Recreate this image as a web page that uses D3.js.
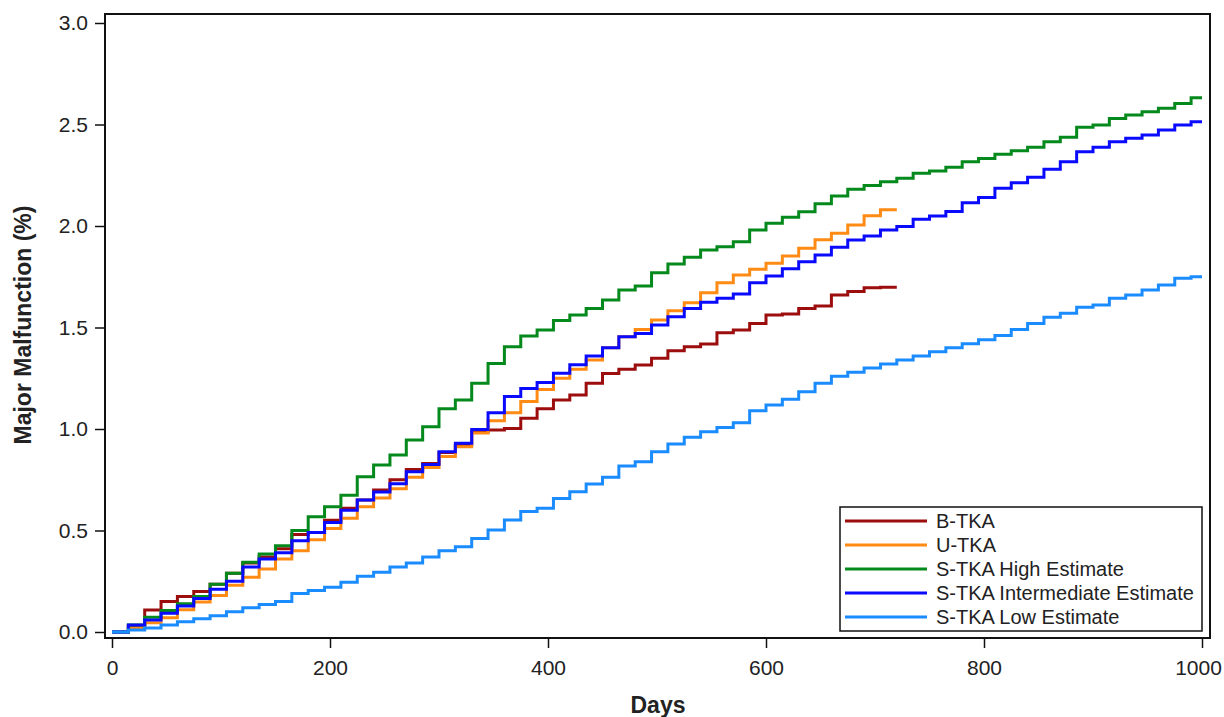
<!DOCTYPE html>
<html>
<head>
<meta charset="utf-8">
<script src="https://cdn.jsdelivr.net/npm/d3@7"></script>
<style>
  body { margin: 0; background: #fff; }
  text { font-family: Arial, "Liberation Sans", sans-serif; fill: #222; }
</style>
</head>
<body>
<div id="chart"></div>
<script>
// step times (days) shared by every curve
var stepDays = [0,15,30,45,60,75,90,105,120,135,150,165,180,195,210,225,240,255,270,285,300,
  315,330,345,360,375,390,405,420,435,450,465,480,495,510,525,540,555,570,585,600,615,630,
  645,660,675,690,705,720,735,750,765,780,795,810,825,840,855,870,885,900,915,930,945,960,975,990];

var bTka = [0,0.03,0.108,0.15,0.175,0.20,0.235,0.29,0.34,0.37,0.41,0.48,0.49,0.55,0.61,0.65,0.70,
  0.75,0.80,0.83,0.884,0.921,0.987,0.995,1.003,1.053,1.10,1.143,1.168,1.225,1.274,1.294,1.315,
  1.348,1.386,1.405,1.419,1.474,1.488,1.52,1.562,1.566,1.594,1.606,1.66,1.677,1.696,1.698];

var uTka = [0,0.02,0.045,0.07,0.11,0.148,0.18,0.23,0.27,0.31,0.36,0.40,0.455,0.51,0.56,0.617,0.66,
  0.706,0.762,0.81,0.864,0.913,0.98,1.041,1.08,1.135,1.195,1.25,1.294,1.34,1.40,1.455,1.49,
  1.537,1.583,1.622,1.671,1.721,1.759,1.787,1.816,1.852,1.89,1.932,1.964,2.005,2.05,2.08];

var sHigh = [0,0.034,0.073,0.106,0.139,0.175,0.235,0.29,0.343,0.384,0.425,0.50,0.568,0.617,0.674,
  0.765,0.823,0.872,0.946,1.011,1.10,1.143,1.225,1.323,1.405,1.458,1.488,1.534,1.561,1.594,1.635,
  1.685,1.704,1.77,1.813,1.846,1.882,1.898,1.923,1.98,2.013,2.043,2.07,2.11,2.148,2.181,2.199,
  2.218,2.235,2.26,2.271,2.289,2.317,2.333,2.353,2.371,2.388,2.415,2.437,2.486,2.498,2.53,2.547,
  2.563,2.58,2.604,2.632];

var sMid = [0,0.034,0.059,0.092,0.128,0.165,0.21,0.25,0.32,0.36,0.39,0.45,0.49,0.54,0.60,0.65,0.69,
  0.73,0.79,0.825,0.888,0.93,0.998,1.08,1.16,1.20,1.229,1.275,1.316,1.36,1.40,1.455,1.471,1.512,
  1.553,1.594,1.624,1.644,1.665,1.721,1.754,1.79,1.824,1.857,1.895,1.931,1.951,1.98,1.997,2.033,
  2.049,2.071,2.115,2.141,2.186,2.213,2.24,2.279,2.317,2.366,2.388,2.415,2.432,2.448,2.473,2.498,2.514];

var sLow = [0,0.01,0.02,0.035,0.05,0.065,0.08,0.10,0.12,0.135,0.15,0.19,0.205,0.22,0.245,0.275,0.294,
  0.32,0.34,0.37,0.40,0.42,0.46,0.502,0.552,0.593,0.609,0.658,0.691,0.729,0.762,0.818,0.839,0.888,
  0.926,0.959,0.987,1.008,1.031,1.09,1.118,1.146,1.184,1.225,1.26,1.28,1.30,1.32,1.34,1.36,1.38,
  1.40,1.42,1.44,1.46,1.49,1.52,1.55,1.57,1.60,1.611,1.644,1.66,1.685,1.709,1.742,1.75];

var seriesNames = ["B-TKA","U-TKA","S-TKA High Estimate","S-TKA Intermediate Estimate","S-TKA Low Estimate"];
var seriesValues = [bTka, uTka, sHigh, sMid, sLow];
var seriesEnd = [720, 720, 1000, 1000, 1000];
var seriesColors = ["#9c0d0d","#ff8a14","#04891c","#0a0aff","#1a8cff"];

var xTicks = [0,200,400,600,800,1000];
var yTicks = [0.0,0.5,1.0,1.5,2.0,2.5,3.0];

var W = 1224, H = 717;
var frame = { left: 105, right: 1210, top: 14, bottom: 638 };

var svg = d3.select("#chart").append("svg")
            .attr("width", W)
            .attr("height", H);

var xScale = d3.scaleLinear().domain([0,1000]).range([112,1202]);
var yScale = d3.scaleLinear().domain([0,3]).range([632,23]);

// y axis ticks outside the frame
var yAxis = d3.axisLeft(yScale).tickValues(yTicks).tickFormat(d3.format(".1f"))
              .tickSizeInner(10).tickSizeOuter(0).tickPadding(7);
var gy = svg.append("g")
            .attr("transform", "translate(" + frame.left + ",0)")
            .call(yAxis);
gy.select(".domain").remove();
gy.selectAll("line").attr("stroke","#111").attr("stroke-width",1.5);
gy.selectAll("text").style("font-size","21px").attr("fill","#222");

var xAxis = d3.axisBottom(xScale).tickValues(xTicks).tickFormat(d3.format("d"))
              .tickSizeInner(10).tickSizeOuter(0).tickPadding(12);
var gx = svg.append("g")
            .attr("transform", "translate(0," + frame.bottom + ")")
            .call(xAxis);
gx.select(".domain").remove();
gx.selectAll("line").attr("stroke","#111").attr("stroke-width",1.5);
gx.selectAll("text").style("font-size","21px").attr("fill","#222");
// last label sits against the right edge, as in the original
gx.selectAll("text").filter(function(d){ return d === 1000; }).attr("dx", -4);

// curves
var line = d3.line()
             .x(function(d){ return xScale(d[0]); })
             .y(function(d){ return yScale(d[1]); })
             .curve(d3.curveStepAfter);

seriesValues.forEach(function(vals, i){
  var pts = vals.map(function(v, k){ return [stepDays[k], v]; });
  pts.push([seriesEnd[i], vals[vals.length - 1]]);
  svg.append("path")
     .attr("d", line(pts))
     .attr("fill","none")
     .attr("stroke", seriesColors[i])
     .attr("stroke-width", 3);
});

// frame
svg.append("rect")
   .attr("x", frame.left).attr("y", frame.top)
   .attr("width", frame.right - frame.left)
   .attr("height", frame.bottom - frame.top)
   .attr("fill","none").attr("stroke","#111").attr("stroke-width",2);

// axis titles
svg.append("text")
   .attr("x", 658).attr("y", 713)
   .attr("text-anchor","middle")
   .style("font-size","23px").style("font-weight","bold")
   .text("Days");

svg.append("text")
   .attr("transform","translate(31,325) rotate(-90)")
   .attr("text-anchor","middle")
   .style("font-size","23px").style("font-weight","bold")
   .text("Major Malfunction (%)");

// legend
var legend = svg.append("g");
legend.append("rect")
      .attr("x", 840).attr("y", 507).attr("width", 362).attr("height", 124)
      .attr("fill","#fff").attr("stroke","#111").attr("stroke-width",1.5);

seriesNames.forEach(function(name, i){
  var ly = 521 + i*24;
  legend.append("line")
        .attr("x1", 845).attr("x2", 927).attr("y1", ly).attr("y2", ly)
        .attr("stroke", seriesColors[i]).attr("stroke-width", 3);
  legend.append("text")
        .attr("x", 936).attr("y", ly + 7)
        .style("font-size","20px")
        .text(name);
});
</script>
</body>
</html>
